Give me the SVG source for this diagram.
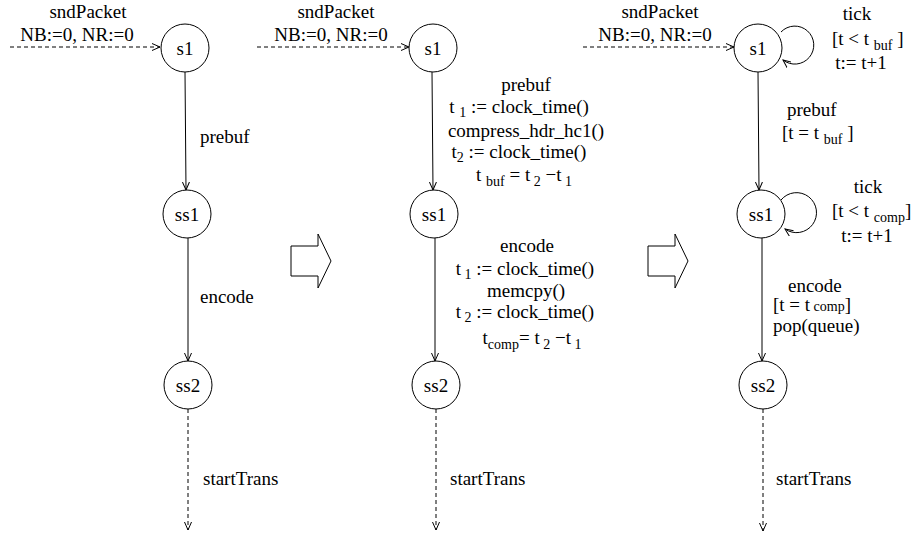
<svg xmlns="http://www.w3.org/2000/svg" width="911" height="533" viewBox="0 0 911 533" font-family="'Liberation Serif', 'DejaVu Serif', 'Times New Roman', Times, serif">
<style>
text{font-family:'Liberation Serif','DejaVu Serif','Times New Roman',Times,serif;font-size:19px;fill:#000}
.m{text-anchor:middle}
.sub{font-size:14px}
.st{fill:#fff;stroke:#000;stroke-width:1}
.e{fill:none;stroke:#000;stroke-width:1}
.d{stroke-dasharray:4 3}
.blk{fill:#fff;stroke:#000;stroke-width:1}
</style>
<defs>
<marker id="ah" markerWidth="10" markerHeight="8" refX="8" refY="4" orient="auto" markerUnits="userSpaceOnUse">
<path d="M0,0.5 L8,4 L0,7.5" fill="none" stroke="#000" stroke-width="1"/>
</marker>
</defs>
<rect width="911" height="533" fill="#fff"/>

<g id="connectors">
<line class="e d" x1="10" y1="47" x2="160" y2="47" marker-end="url(#ah)"/>
<line class="e" x1="185" y1="72" x2="186" y2="190" marker-end="url(#ah)"/>
<line class="e" x1="188" y1="238" x2="188" y2="361" marker-end="url(#ah)"/>
<line class="e d" x1="188" y1="409" x2="188" y2="530" marker-end="url(#ah)"/>
<line class="e d" x1="257" y1="47" x2="409" y2="47" marker-end="url(#ah)"/>
<line class="e" x1="432" y1="72" x2="433" y2="190" marker-end="url(#ah)"/>
<line class="e" x1="435" y1="238" x2="435" y2="361" marker-end="url(#ah)"/>
<line class="e d" x1="436" y1="409" x2="436" y2="530" marker-end="url(#ah)"/>
<line class="e d" x1="583" y1="47" x2="734" y2="47" marker-end="url(#ah)"/>
<line class="e" x1="758" y1="72" x2="759" y2="190" marker-end="url(#ah)"/>
<line class="e" x1="762" y1="238" x2="762" y2="361" marker-end="url(#ah)"/>
<line class="e d" x1="763" y1="409" x2="763" y2="531" marker-end="url(#ah)"/>
<path class="e" d="M781,32 A19,19 0 1,1 783,60" marker-end="url(#ah)"/>
<path class="e" d="M781,200 A20,20 0 1,1 785,229" marker-end="url(#ah)"/>

<text class="m" x="88" y="18">sndPacket</text>
<text class="m" x="77" y="41">NB:=0, NR:=0</text>
<text x="200" y="143">prebuf</text>
<text x="200" y="303">encode</text>
<text x="203" y="485">startTrans</text>

<text class="m" x="336" y="18">sndPacket</text>
<text class="m" x="331" y="41">NB:=0, NR:=0</text>
<text class="m" x="526" y="91">prebuf</text>
<text class="m" x="519" y="113">t <tspan class="sub" dy="4">1</tspan><tspan dy="-4"> := clock_time()</tspan></text>
<text class="m" x="526" y="137">compress_hdr_hc1()</text>
<text class="m" x="519" y="158">t<tspan class="sub" dy="4">2</tspan><tspan dy="-4"> := clock_time()</tspan></text>
<text class="m" x="524" y="181">t <tspan class="sub" dy="5">buf</tspan><tspan dy="-5"> = t</tspan><tspan class="sub" dy="5"> 2</tspan><tspan dy="-5"> −t</tspan><tspan class="sub" dy="5"> 1</tspan></text>
<text class="m" x="527" y="252">encode</text>
<text class="m" x="525" y="275">t<tspan class="sub" dy="4"> 1</tspan><tspan dy="-4"> := clock_time()</tspan></text>
<text class="m" x="526" y="297">memcpy()</text>
<text class="m" x="525" y="318">t<tspan class="sub" dy="4"> 2</tspan><tspan dy="-4"> := clock_time()</tspan></text>
<text class="m" x="532" y="344">t<tspan class="sub" dy="5">comp</tspan><tspan dy="-5">= t</tspan><tspan class="sub" dy="5"> 2</tspan><tspan dy="-5"> −t</tspan><tspan class="sub" dy="5"> 1</tspan></text>
<text x="450" y="485">startTrans</text>

<text class="m" x="660" y="18">sndPacket</text>
<text class="m" x="655" y="41">NB:=0, NR:=0</text>
<text class="m" x="857" y="20">tick</text>
<text x="832" y="45">[t &lt; t <tspan class="sub" dy="5">buf</tspan><tspan dy="-5"> ]</tspan></text>
<text class="m" x="861" y="69">t:= t+1</text>
<text x="787" y="116">prebuf</text>
<text x="782" y="139">[t = t <tspan class="sub" dy="5">buf</tspan><tspan dy="-5"> ]</tspan></text>
<text class="m" x="868" y="193">tick</text>
<text x="832" y="217">[t &lt; t <tspan class="sub" dy="5">comp</tspan><tspan dy="-5">]</tspan></text>
<text class="m" x="867" y="242">t:= t+1</text>
<text x="788" y="292">encode</text>
<text x="773" y="311">[t = t<tspan class="sub"> comp</tspan>]</text>
<text x="773" y="332">pop(queue)</text>
<text x="776" y="485">startTrans</text>
</g>

<g id="col1-s1"><circle class="st" cx="185" cy="48" r="24"/><text class="m" x="185" y="55">s1</text></g>
<g id="col1-ss1"><circle class="st" cx="187" cy="214" r="24"/><text class="m" x="187" y="221">ss1</text></g>
<g id="col1-ss2"><circle class="st" cx="188" cy="385" r="24"/><text class="m" x="188" y="392">ss2</text></g>

<g id="col2-s1"><circle class="st" cx="433" cy="48" r="24"/><text class="m" x="433" y="55">s1</text></g>
<g id="col2-ss1"><circle class="st" cx="434" cy="214" r="24"/><text class="m" x="434" y="221">ss1</text></g>
<g id="col2-ss2"><circle class="st" cx="436" cy="385" r="24"/><text class="m" x="436" y="392">ss2</text></g>

<g id="col3-s1"><circle class="st" cx="758" cy="48" r="24"/><text class="m" x="758" y="55">s1</text></g>
<g id="col3-ss1"><circle class="st" cx="761" cy="214" r="24"/><text class="m" x="761" y="221">ss1</text></g>
<g id="col3-ss2"><circle class="st" cx="763" cy="385" r="24"/><text class="m" x="763" y="392">ss2</text></g>

<g id="arrow1"><polygon class="blk" points="291,246 318,246 318,234 331,261 318,288 318,276 291,276"/></g>
<g id="arrow2"><polygon class="blk" points="648,246 675,246 675,234 688,261 675,288 675,276 648,276"/></g>
</svg>
